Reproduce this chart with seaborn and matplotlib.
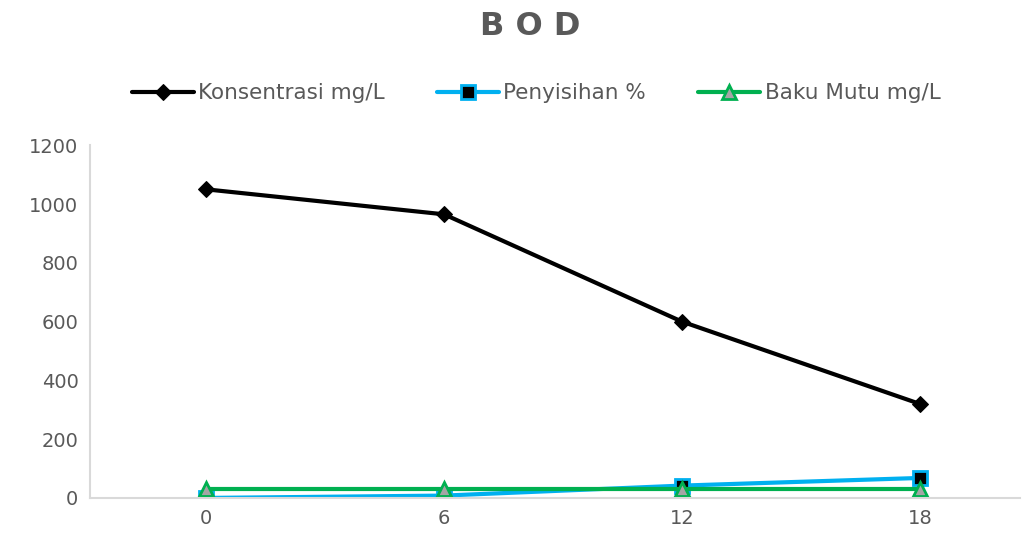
import seaborn as sns
import pandas as pd
import matplotlib.pyplot as plt

# data
waktu = ["0", "6", "12", "18"]
konsentrasi = [1050, 965, 600, 320]
penyisihan = [0, 8, 42, 68]
baku_mutu = [30, 30, 30, 30]

sns.set_style("white")
plt.rcParams['font.family'] = ['DejaVu Sans']

df = pd.DataFrame({
    "pos": range(len(waktu)),
    "Konsentrasi mg/L": konsentrasi,
    "Penyisihan %": penyisihan,
    "Baku Mutu mg/L": baku_mutu,
})

fig = plt.figure(figsize=(10.3, 5.36), dpi=100)
ax = fig.add_axes([0.087, 0.071, 0.903, 0.658])

sns.lineplot(data=df, x="pos", y="Konsentrasi mg/L", ax=ax, color="black",
             linewidth=3, marker="D", markersize=8, markerfacecolor="black",
             markeredgecolor="black", label="Konsentrasi mg/L")
sns.lineplot(data=df, x="pos", y="Penyisihan %", ax=ax, color="#00B0F0",
             linewidth=3, marker="s", markersize=10, markerfacecolor="black",
             markeredgecolor="#00B0F0", markeredgewidth=2, label="Penyisihan %")
sns.lineplot(data=df, x="pos", y="Baku Mutu mg/L", ax=ax, color="#00B050",
             linewidth=3, marker="^", markersize=10, markerfacecolor="#A5A5A5",
             markeredgecolor="#00B050", markeredgewidth=2, label="Baku Mutu mg/L")

ax.set_xlim(-0.49, 3.42)
ax.set_ylim(0, 1200)
ax.set_yticks(range(0, 1201, 200))
ax.set_xticks(range(len(waktu)))
ax.set_xticklabels(waktu)
ax.set_xlabel("")
ax.set_ylabel("")
ax.tick_params(axis="both", colors="#595959", labelsize=14, length=0, pad=8)

for side in ["top", "right"]:
    ax.spines[side].set_visible(False)
for side in ["left", "bottom"]:
    ax.spines[side].set_color("#D9D9D9")
    ax.spines[side].set_linewidth(1.5)

leg = ax.legend(loc="center", bbox_to_anchor=(0.48, 1.147), ncol=3, frameon=False,
                fontsize=15.5, handlelength=2.9, handletextpad=0.2, columnspacing=2.4)
for t in leg.get_texts():
    t.set_color("#595959")

fig.text(0.515, 0.95, "B O D", ha="center", va="center", fontsize=23,
         fontweight="bold", color="#595959")

plt.savefig("out.png", dpi=100)
